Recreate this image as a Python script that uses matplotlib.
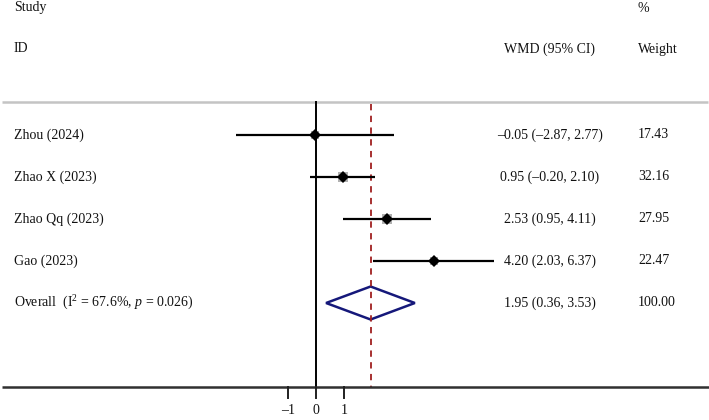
import matplotlib
matplotlib.use("Agg")
import matplotlib.pyplot as plt
import numpy as np

plt.rcParams['font.family'] = ['Liberation Serif', 'DejaVu Serif']
plt.rcParams['mathtext.fontset'] = 'custom'
plt.rcParams['mathtext.rm'] = 'Liberation Serif'
plt.rcParams['mathtext.it'] = 'Liberation Serif:italic'

studies = ["Zhou (2024)", "Zhao X (2023)", "Zhao Qq (2023)", "Gao (2023)"]
wmd = [-0.05, 0.95, 2.53, 4.20]
lower = [-2.87, -0.20, 0.95, 2.03]
upper = [2.77, 2.10, 4.11, 6.37]
weights = [17.43, 32.16, 27.95, 22.47]
overall_label = r"Overall  (I$^{2}$ = 67.6%, $p$ = 0.026)"
overall = 1.95
overall_lo = 0.36
overall_hi = 3.53
overall_weight = 100.00
xticks = [-1, 0, 1]


def fmt(v):
    s = f"{abs(v):.2f}"
    return ("\u2013" + s) if v < 0 else s


W, H = 709, 420
fig = plt.figure(figsize=(W / 100, H / 100), dpi=100)
ax = fig.add_axes([0, 0, 1, 1])
ax.set_axis_off()

# pixel mapping: zero at x=316, 28 px per unit; row 0 at y=135, 42 px per row
x0, sx = 316, 28
y0, sy = 135, 42
ax.set_xlim(-x0 / sx, (W - x0) / sx)
ax.set_ylim((H - y0) / sy, -y0 / sy)


def py(p):
    return (p - y0) / sy


def px(p):
    return (p - x0) / sx


fs = 10
tf = dict(fontsize=fs, va='center', color='#111111')

# headers
ax.text(px(14), py(8), "Study", ha='left', **tf)
ax.text(px(14), py(49), "ID", ha='left', **tf)
ax.text(px(550), py(49), "WMD (95% CI)", ha='center', **tf)
ax.text(px(638), py(8), "%", ha='left', **tf)
ax.text(px(638), py(49), "Weight", ha='left', **tf)

# top gray rule
ax.plot([px(2), px(708)], [py(102), py(102)], color='#c4c4c4', lw=1.8, solid_capstyle='butt')

rows = np.arange(len(studies))
ov_row = len(studies)

# zero line
ax.plot([0, 0], [py(102), py(387)], color='black', lw=1.4)
# overall dashed line
ax.plot([overall, overall], [py(104), py(387)], color='#a02020', lw=1.3,
        dashes=(3.5, 3))

for i, (s, e, lo, hi, w) in enumerate(zip(studies, wmd, lower, upper, weights)):
    ax.plot([lo, hi], [i, i], color='black', lw=1.6, solid_capstyle='butt')
    ax.plot([e], [i], marker='s', color='#b0b0b0', markersize=np.sqrt(w) * 1.3,
            markeredgewidth=0)
    ax.plot([e], [i], marker='D', color='black', markersize=6, markeredgewidth=0)
    ax.text(px(14), i, s, ha='left', **tf)
    ax.text(px(550), i, f"{fmt(e)} ({fmt(lo)}, {fmt(hi)})", ha='center', **tf)
    ax.text(px(638), i, f"{w:.2f}", ha='left', **tf)

# overall diamond
dh = 16.5 / sy
ax.fill([overall_lo, overall, overall_hi, overall, overall_lo],
        [ov_row, ov_row - dh, ov_row, ov_row + dh, ov_row],
        facecolor='none', edgecolor='#15187a', lw=1.8)
ax.text(px(14), ov_row, overall_label, ha='left', **tf)
ax.text(px(550), ov_row, f"{fmt(overall)} ({fmt(overall_lo)}, {fmt(overall_hi)})",
        ha='center', **tf)
ax.text(px(638), ov_row, f"{overall_weight:.2f}", ha='left', **tf)

# bottom axis
ax.plot([px(2), px(709)], [py(387), py(387)], color='#303030', lw=1.8, solid_capstyle='butt')
for t in xticks:
    ax.plot([t, t], [py(387), py(398)], color='#202020', lw=1.4)
    ax.text(t, py(411), fmt(t).replace('.00', ''), ha='center', **tf)

fig.savefig("out.png", dpi=100)
